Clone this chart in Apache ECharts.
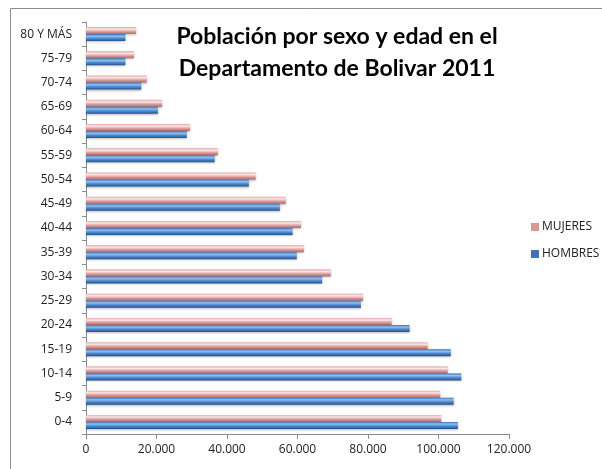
<!DOCTYPE html>
<html>
<head>
<meta charset="utf-8">
<script src="https://cdn.jsdelivr.net/npm/echarts@6/dist/echarts.min.js"></script>
<style>html,body{margin:0;padding:0;background:#fff;}#c{width:602px;height:469px;}</style>
</head>
<body>
<div id="c"></div>
<script>
var categories = ['0-4','5-9','10-14','15-19','20-24','25-29','30-34','35-39','40-44','45-49','50-54','55-59','60-64','65-69','70-74','75-79','80 Y MÁS'];
var hombres = [105500,104300,106500,103500,91800,78000,67000,59800,58600,55000,46200,36500,28600,20400,15700,11200,11200];
var mujeres = [100800,100500,102600,96900,86700,78600,69400,61800,61000,56600,48100,37400,29500,21600,17200,13600,14200];
var xTicks = [0,20000,40000,60000,80000,100000,120000];

var chart = echarts.init(document.getElementById('c'));
function fmt(v){ return String(v).replace(/\B(?=(\d{3})+(?!\d))/g,'.'); }
var blueGrad = new echarts.graphic.LinearGradient(0,0,0,1,[
  {offset:0,color:'#3a6cb0'},{offset:0.3,color:'#8fc2f2'},{offset:0.55,color:'#5a92d6'},{offset:1,color:'#234f8c'}]);
var pinkGrad = new echarts.graphic.LinearGradient(0,0,0,1,[
  {offset:0,color:'#e3a8a8'},{offset:0.3,color:'#fde6e6'},{offset:0.6,color:'#e2a2a2'},{offset:1,color:'#a86868'}]);
chart.setOption({
  animation:false,
  textStyle:{fontFamily:'"Open Sans", sans-serif'},
  graphic:[
    {type:'rect',shape:{x:10.5,y:8.5,width:620,height:500},style:{fill:'none',stroke:'#8c8c8c',lineWidth:1},silent:true},
    {type:'text',x:337,y:21,style:{text:'Población por sexo y edad en el\nDepartamento de Bolivar 2011',textAlign:'center',font:'bold 23px Lato, "Open Sans", sans-serif',fill:'#000',lineHeight:32}}
  ],
  legend:{
    orient:'vertical',left:526,top:216,itemWidth:8,itemHeight:8,itemGap:15,
    data:[{name:'MUJERES',itemStyle:{color:'#d99694'}},{name:'HOMBRES',itemStyle:{color:'#3f72b5'}}],
    textStyle:{fontSize:12,color:'#222',padding:[0,0,0,-2]},
    icon:'rect'
  },
  grid:{left:86,right:93,top:22,bottom:35},
  xAxis:{
    type:'value',min:0,max:120000,interval:20000,
    axisLine:{show:true,lineStyle:{color:'#8c8c8c'}},
    axisTick:{show:true,length:5,lineStyle:{color:'#8c8c8c'}},
    splitLine:{show:false},
    axisLabel:{formatter:function(v){return fmt(v);},fontSize:12,color:'#222',margin:10}
  },
  yAxis:{
    type:'category',data:categories,
    axisLine:{show:true,lineStyle:{color:'#8c8c8c'}},
    axisTick:{show:true,length:4,lineStyle:{color:'#8c8c8c'}},
    axisLabel:{fontSize:12,color:'#222',margin:14}
  },
  series:[
    {name:'MUJERES',type:'bar',data:mujeres,barWidth:7,barGap:'0%',
     itemStyle:{color:pinkGrad,shadowColor:'rgba(0,0,0,0.25)',shadowBlur:2,shadowOffsetY:1}},
    {name:'HOMBRES',type:'bar',data:hombres,barWidth:7,barGap:'0%',
     itemStyle:{color:blueGrad,shadowColor:'rgba(0,0,0,0.25)',shadowBlur:2,shadowOffsetY:1}}
  ]
});
</script>
</body>
</html>
